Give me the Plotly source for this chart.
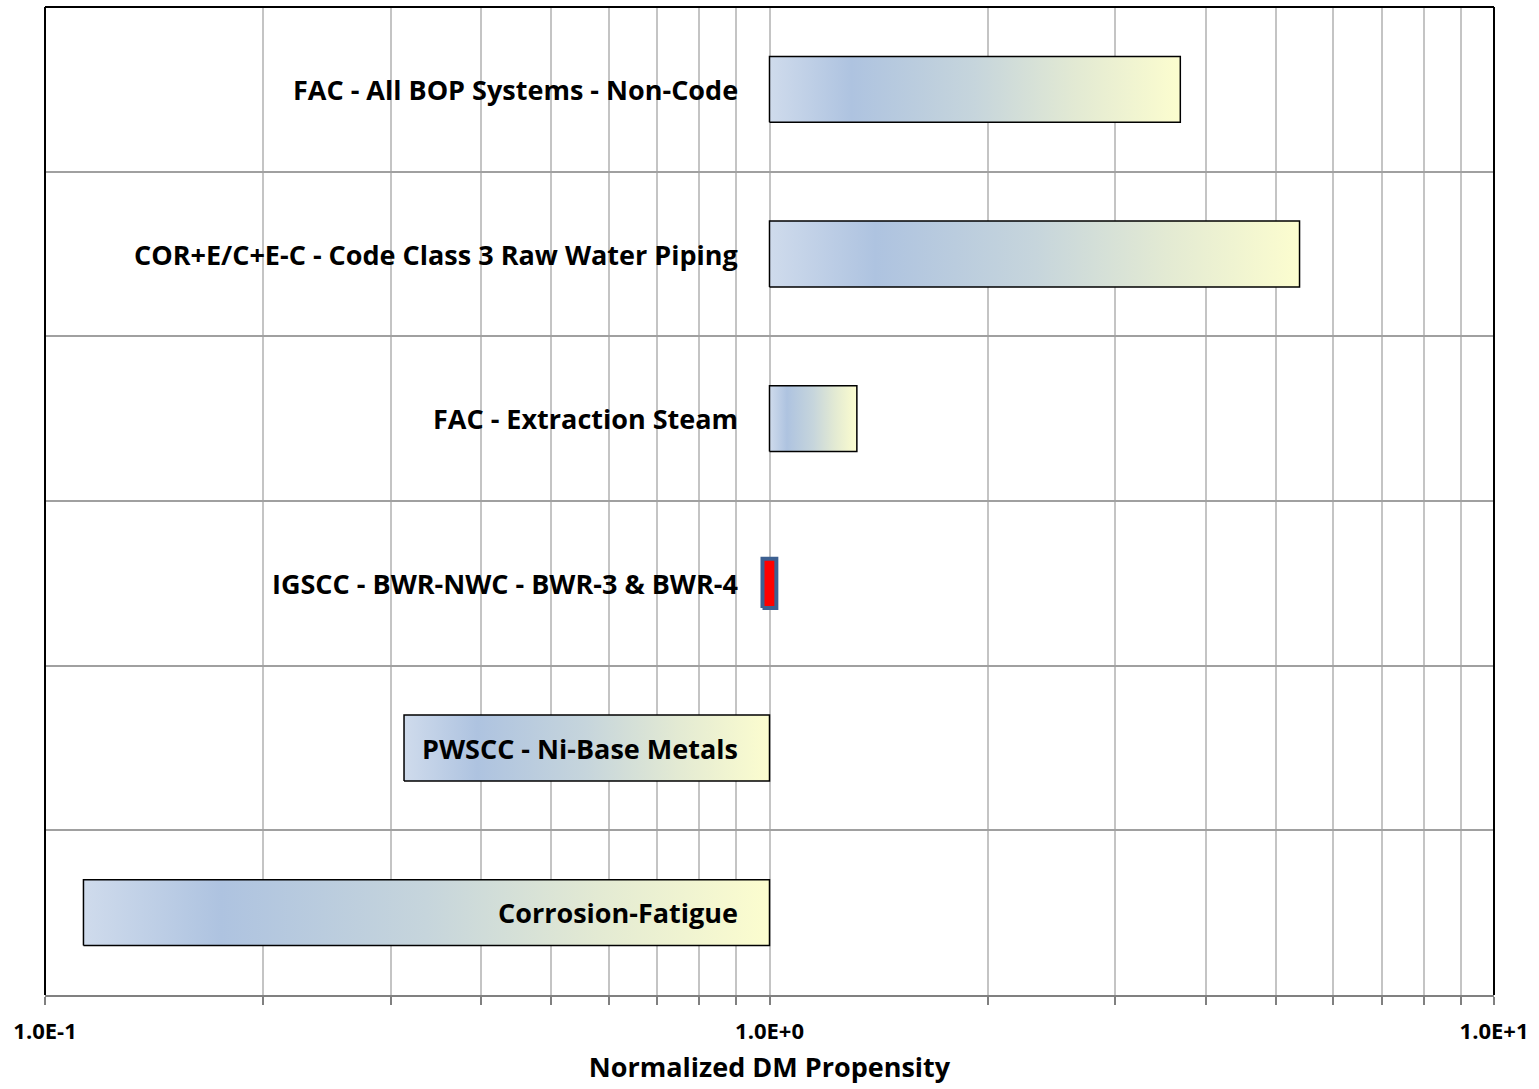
import plotly.graph_objects as go

# Damage-mechanism propensity ranges, top row first
categories = [
    "FAC - All BOP Systems - Non-Code",
    "COR+E/C+E-C - Code Class 3 Raw Water Piping",
    "FAC - Extraction Steam",
    "IGSCC - BWR-NWC - BWR-3 & BWR-4",
    "PWSCC - Ni-Base Metals",
    "Corrosion-Fatigue",
]
low_values = [1.0, 1.0, 1.0, 0.978, 0.313, 0.113]
high_values = [3.69, 5.39, 1.32, 1.022, 1.0, 1.0]
highlight = [False, False, False, True, False, False]

tick_values = [0.1, 1.0, 10.0]
tick_labels = ["1.0E-1", "1.0E+0", "1.0E+1"]
minor_values = [m * d for d in (0.1, 1.0) for m in range(2, 10)]

FONT = "Open Sans"
n = len(categories)
gradient = [
    [0.0, "#cfdbec"],
    [0.2, "#aec3e0"],
    [0.5, "#c6d5dc"],
    [0.75, "#e3ead3"],
    [1.0, "#fcfdcf"],
]

fig = go.Figure()

for i, (name, lo, hi, hl) in enumerate(zip(categories, low_values, high_values, highlight)):
    yc = n - 0.5 - i
    half = 0.15 if hl else 0.2
    xs = [lo, hi, hi, lo, lo]
    ys = [yc - half, yc - half, yc + half, yc + half, yc - half]
    if hl:
        fig.add_trace(go.Scatter(
            x=xs, y=ys, mode="lines", fill="toself",
            fillcolor="#ff0000",
            line=dict(color="#3d6091", width=4),
            hoverinfo="skip", showlegend=False,
        ))
    else:
        fig.add_trace(go.Scatter(
            x=xs, y=ys, mode="lines", fill="toself",
            fillgradient=dict(type="horizontal", colorscale=gradient),
            line=dict(color="#000000", width=1.5),
            hoverinfo="skip", showlegend=False,
        ))
    fig.add_annotation(
        x=0, y=yc, xref="x", yref="y",
        text=f"<b>{name}</b>", showarrow=False,
        xanchor="right", yanchor="middle", xshift=-30,
        font=dict(family=FONT, size=27, color="#000000"),
    )

# Frame on left, top and right
for x0, y0, x1, y1 in [(0, 0, 0, 1), (0, 1, 1, 1), (1, 0, 1, 1)]:
    fig.add_shape(type="line", xref="paper", yref="paper",
                  x0=x0, y0=y0, x1=x1, y1=y1,
                  line=dict(color="#000000", width=2))

fig.update_layout(
    width=1539, height=1089,
    margin=dict(l=45, r=45, t=7, b=94),
    paper_bgcolor="#ffffff", plot_bgcolor="#ffffff",
    showlegend=False,
    xaxis=dict(
        type="log", range=[-1, 1],
        tickmode="array", tickvals=tick_values, ticktext=tick_labels,
        tickfont=dict(family=FONT, size=22, color="#000000", weight="bold"),
        ticks="outside", ticklen=8, tickcolor="#808080", tickwidth=1.5,
        ticklabelstandoff=8,
        showgrid=True, gridcolor="#c4c4c4", gridwidth=1.5,
        minor=dict(tickmode="array", tickvals=minor_values, ticks="outside",
                   ticklen=8, tickcolor="#808080", tickwidth=1.5,
                   showgrid=True, gridcolor="#c4c4c4", gridwidth=1.5),
        showline=True, linecolor="#808080", linewidth=2,
        zeroline=False,
        title=dict(text="<b>Normalized DM Propensity</b>",
                   font=dict(family=FONT, size=27, color="#000000"),
                   standoff=14),
    ),
    yaxis=dict(
        range=[0, n], tickmode="array", tickvals=list(range(1, n)),
        showticklabels=False, ticks="",
        showgrid=True, gridcolor="#a0a0a0", gridwidth=2,
        zeroline=False, showline=False,
    ),
)

fig.write_html("out.html")
